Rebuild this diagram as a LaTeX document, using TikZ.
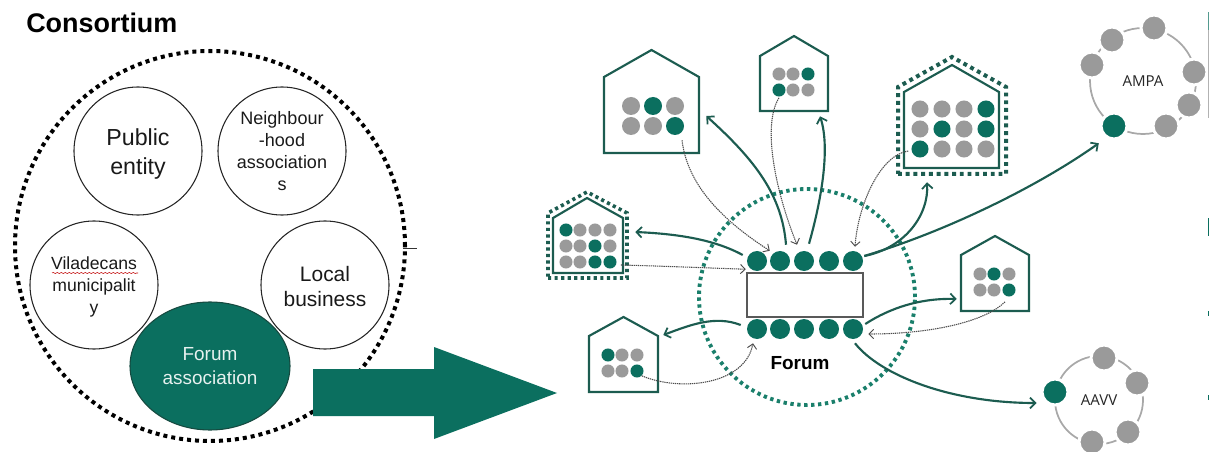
\documentclass[tikz,border=0pt]{standalone}
\usepackage{fontspec}
\setmainfont{Liberation Sans}
\newfontfamily\ringfont{Open Sans}
\usetikzlibrary{arrows.meta,fit,shapes.geometric,decorations.pathmorphing}
\definecolor{tealmain}{HTML}{0B6F5F}
\definecolor{tealdark}{HTML}{1C5C50}
\definecolor{tealdots}{HTML}{1A7F6B}
\definecolor{greydot}{HTML}{9A9A9A}
\definecolor{ringgrey}{HTML}{A8A8A8}
\tikzset{
  x=0.75pt,y=-0.75pt,
  member/.style={circle,draw=black!85,line width=0.8pt,minimum size=96pt,inner sep=0pt,align=center,text=black!90},
  seat/.style={circle,fill=tealmain,inner sep=0pt,minimum size=15pt},
  gdot/.style={circle,fill=tealmain,inner sep=0pt,minimum size=#1},
  kdot/.style={circle,fill=greydot,inner sep=0pt,minimum size=#1},
  houseline/.style={draw=tealdark,line width=1.6pt,line join=miter},
  housedotsbig/.style={draw=tealdark,line width=3pt,dash pattern=on 2.9pt off 2.9pt},
  housedotssmall/.style={draw=tealdark,line width=2.7pt,dash pattern=on 2.4pt off 2.5pt},
  flow/.style={draw=tealdark,line width=1.6pt,-{Straight Barb[length=4pt,width=8pt,line width=1.3pt]}},
  note/.style={draw=black!70,line width=0.8pt,dash pattern=on 1pt off 0.6pt,-{Straight Barb[length=3.5pt,width=7pt,line width=0.7pt]}},
  ring/.style={circle,draw=ringgrey,line width=1.3pt,inner sep=0pt,font=\ringfont\fontsize{11.3}{13}\selectfont,text=black!85},
  ringk/.style={circle,fill=greydot,draw=white,line width=2.25pt,inner sep=0pt,minimum size=19.5pt},
  ringg/.style={circle,fill=tealmain,draw=white,line width=2.25pt,inner sep=0pt,minimum size=19.5pt},
}
\newcommand{\housebox}[6]{%
  \node[fit={(#2,#4)(#3,#6)},inner sep=0pt] (#1) {};
  \path[houseline] (#2,#6)--(#3,#6)--(#3,#5)--({(#2+#3)/2},#4)--(#2,#5)--cycle;}
\begin{document}
\begin{tikzpicture}
\useasboundingbox (0,0) rectangle (1209,452);
% ---- left
\node[anchor=west,inner sep=0pt,font=\bfseries\fontsize{20.2}{24}\selectfont] (title) at (26,23) {Consortium};
\node[circle,draw=black,line width=3pt,dash pattern=on 3pt off 3pt,minimum size=292.5pt,inner sep=0pt] (cons) at (210,246) {};
\draw[black!80,line width=0.6pt] (403,248) -- (417,248);
\node[member,font=\fontsize{17.4}{21.75}\selectfont] (pub) at (138,151) {\rule{0pt}{17pt}Public\\entity};
\node[member,font=\fontsize{13.5}{16.3}\selectfont] (nei) at (282,151) {Neighbour\\-hood\\association\\s};
\node[member,font=\fontsize{13.2}{16.5}\selectfont] (vil) at (94,285) {\rule{0pt}{12.5pt}Viladecans\\municipalit\\y};
\node[member,font=\fontsize{15.7}{18.75}\selectfont] (loc) at (325,285) {\rule{0pt}{13pt}Local\\business};
\node[ellipse,fill=tealmain,draw=tealdark!80!black,line width=0.8pt,minimum width=120pt,minimum height=96pt,inner sep=0pt,align=center,text=white!90!tealmain,font=\fontsize{14.2}{18}\selectfont] (fas) at (210,366) {Forum\\association};
\draw[red!75!black,line width=0.4pt,decorate,decoration={snake,amplitude=0.4pt,segment length=3pt}] (52,273) -- (138,273);
\fill[tealmain] (313,369) -- (434,369) -- (434,347) -- (557,393) -- (434,439) -- (434,416) -- (313,416) -- cycle;
% ---- forum
\node[circle,draw=tealdots,line width=2.9pt,dash pattern=on 2.5pt off 2.7pt,minimum size=162pt,inner sep=0pt] (fcirc) at (807,297) {};
\node[draw=black!65,line width=0.9pt,minimum width=87pt,minimum height=33pt,inner sep=0pt] (tab) at (805,295) {};
\foreach \x [count=\i] in {757,780,804,829,853}{
  \node[seat] (t\i) at (\x,261) {};
  \node[seat] (b\i) at (\x,329) {};
}
\node[font=\bfseries\fontsize{14.2}{17}\selectfont] (flab) at (800,363) {Forum};
% ---- houses
\housebox{h1}{604}{699}{50}{77}{153}
\foreach \x/\y/\s [count=\i] in {631/106/kdot,653/106/gdot,675/106/kdot,631/126/kdot,653/126/kdot,675/126/gdot}
  \node[\s=13.5pt] (h1d\i) at (\x,\y) {};
\housebox{h2}{760}{828}{36}{56}{111}
\foreach \x/\y/\s [count=\i] in {779/74/kdot,793/74/kdot,808/74/gdot,779/90/gdot,793/90/kdot,808/90/kdot}
  \node[\s=9.8pt] (h2d\i) at (\x,\y) {};
\path[housedotsbig] (898,174)--(1006,174)--(1006,87)--(952,57)--(898,87)--cycle;
\path[houseline] (904,168)--(999,168)--(999,92)--(952,65)--(904,92)--cycle;
\node[fit={(898,57)(1006,174)},inner sep=0pt] (h3) {};
\foreach \x/\y/\s [count=\i] in {920/109/kdot,942/109/kdot,964/109/kdot,986/109/gdot,920/129/kdot,942/129/gdot,964/129/kdot,986/129/gdot,920/149/gdot,942/149/kdot,964/149/kdot,986/149/kdot}
  \node[\s=12.8pt] (h3d\i) at (\x,\y) {};
\path[housedotssmall] (548,278)--(627,278)--(627,213)--(587,192)--(548,213)--cycle;
\path[houseline] (553,273)--(623,273)--(623,218)--(587,198)--(553,218)--cycle;
\node[fit={(548,192)(627,278)},inner sep=0pt] (h4) {};
\foreach \x/\y/\s [count=\i] in {566/230/gdot,580/230/kdot,595/230/kdot,610/230/kdot,566/246/kdot,580/246/kdot,595/246/gdot,610/246/kdot,566/262/kdot,580/262/kdot,595/262/gdot,610/262/gdot}
  \node[\s=9.8pt] (h4d\i) at (\x,\y) {};
\housebox{h5}{589}{658}{317}{336}{392}
\foreach \x/\y/\s [count=\i] in {608/355/gdot,622/355/kdot,637/355/kdot,608/371/kdot,622/371/kdot,637/371/gdot}
  \node[\s=9.8pt] (h5d\i) at (\x,\y) {};
\housebox{h6}{961}{1029}{236}{255}{311}
\foreach \x/\y/\s [count=\i] in {980/274/kdot,994/274/gdot,1009/274/kdot,980/290/kdot,994/290/kdot,1009/290/gdot}
  \node[\s=9.8pt] (h6d\i) at (\x,\y) {};
% ---- rings
\node[ring,minimum size=79.5pt] (ampa) at (1143,81) {AMPA};
\foreach \x/\y [count=\i] in {1112/40,1154/28,1194/72,1189/105,1166/126,1092/65}
  \node[ringk] (ak\i) at (\x,\y) {};
\node[ringg] (a0) at (1114,126) {};
\node[ring,minimum size=66pt] (aavv) at (1099,400) {AAVV};
\foreach \x/\y [count=\i] in {1104/358,1137/383,1128/432,1092/442}
  \node[ringk] (ck\i) at (\x,\y) {};
\node[ringg] (c0) at (1055,392) {};
% ---- solid connectors
\path[flow] ([shift={(6,-6)}]t2.north) .. controls (782,195) and (755,160) .. ([shift={(7,14.5)}]h1.east);
\path[flow] ([shift={(5,-7)}]t3.north) .. controls (820,205) and (831,150) .. ([shift={(26,5)}]h2.south);
\path[flow] ([shift={(1,-5)}]t5.east) .. controls (905,248) and (929,215) .. ([shift={(-25,8)}]h3.south);
\path[flow] ([shift={(1,-5)}]t5.east) .. controls (950,230) and (1040,185) .. ([shift={(-5,7)}]a0.south west);
\path[flow] ([shift={(-4,-6)}]t1.west) .. controls (715,240) and (680,234) .. ([shift={(8,-3)}]h4.east);
\path[flow] ([shift={(-6,-4)}]b1.west) .. controls (715,315) and (690,325) .. ([shift={(5,-19.5)}]h5.east);
\path[flow] ([shift={(2,-5)}]b5.east) .. controls (890,308) and (920,298) .. ([shift={(-4,25.5)}]h6.west);
\path[flow] ([shift={(2,4)}]b5.south) .. controls (880,375) and (950,403) .. ([shift={(-4,11)}]c0.west);
% ---- dotted connectors
\path[note] ([shift={(7,5)}]h1d6.south) .. controls (688,190) and (730,225) .. ([shift={(-3,-3)}]t2.north west);
\path[note] ([shift={(0,1)}]h2d4.south) .. controls (762,125) and (775,190) .. ([shift={(-7,-6)}]t3.north);
\path[note] ([shift={(-3,2)}]h3d9.west) .. controls (880,155) and (858,205) .. ([shift={(2,-4)}]t5.north);
\path[note] ([shift={(4,3)}]h4d12.east) .. controls (660,266) and (710,268) .. ([shift={(-4,1)}]t1.south west);
\path[note] (h5d6.south east) .. controls (680,392) and (745,385) .. ([shift={(-4,4)}]b1.south);
\path[note] ([shift={(-4,5)}]h6d6.south) .. controls (985,322) and (930,334) .. ([shift={(5,5)}]b5.east);
% ---- slivers at the right edge
\fill[tealmain!70!white] (1208,12) rectangle (1209,30);
\fill[black!30] (1208,30) rectangle (1209,118);
\fill[tealmain] (1208,218) rectangle (1209,236);
\fill[tealmain] (1208,311) rectangle (1209,316);
\fill[tealmain] (1208,395) rectangle (1209,400);
\end{tikzpicture}
\end{document}
